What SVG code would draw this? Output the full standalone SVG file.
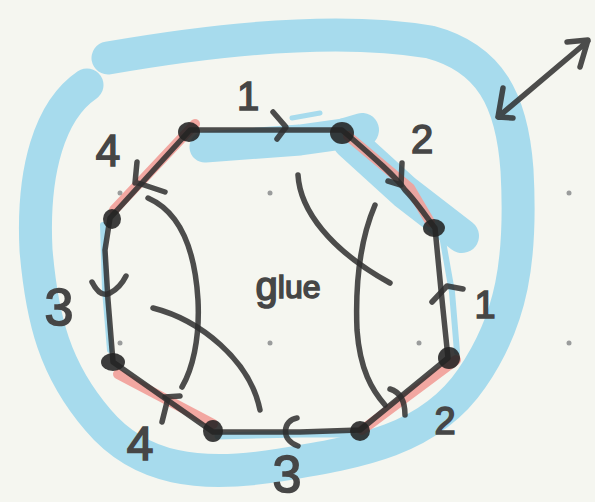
<svg xmlns="http://www.w3.org/2000/svg" width="595" height="502" viewBox="0 0 595 502">
<style>
.bg{fill:#f5f6f0}
.dot{fill:#9a9c9c}
.blue{fill:none;stroke:#a7dbed;stroke-linecap:round;stroke-linejoin:round}
.red{fill:none;stroke:#f29f98;stroke-width:10;stroke-linecap:round;opacity:0.9}
.ink{fill:none;stroke:#2e2e2e;stroke-width:5.5;stroke-linecap:round;stroke-linejoin:round;opacity:0.85}
.node{fill:#222;opacity:0.88}
.lbl{font-family:"Liberation Sans",Arial,sans-serif;fill:#464646;stroke:#464646;stroke-width:1.6;text-anchor:middle}
</style>
<rect class="bg" width="595" height="502"/>
<g id="grid">
<circle class="dot" cx="120" cy="44" r="2.5"/><circle class="dot" cx="270" cy="44" r="2.5"/><circle class="dot" cx="420" cy="44" r="2.5"/>
<circle class="dot" cx="120" cy="193" r="2.5"/><circle class="dot" cx="270" cy="193" r="2.5"/><circle class="dot" cx="569" cy="193" r="2.5"/>
<circle class="dot" cx="120" cy="343" r="2.5"/><circle class="dot" cx="270" cy="343" r="2.5"/><circle class="dot" cx="419" cy="343" r="2.5"/><circle class="dot" cx="569" cy="343" r="2.5"/>
</g>
<g id="outer-loop">
<path class="blue" stroke-width="33" d="M108,58 C200,42 330,25 430,42 C490,58 512,100 517,170 C522,260 512,320 472,378 C430,440 360,452 280,465 C200,478 140,470 98,420 C55,370 42,320 36,250 C32,170 50,110 87,85"/>
</g>
<g id="inner-highlights">
<path class="blue" stroke-width="31" d="M205,147 L300,140 L350,133"/>
<path class="blue" stroke-width="34" d="M345,135 L362,130 M350,142 L405,192 L462,236"/>
<path class="blue" stroke-width="5" d="M292,118 L320,113"/>
<path class="blue" stroke-width="6" d="M441,230 L452,292 L457,352"/>
<path class="blue" stroke-width="6" d="M103,225 L105,290 L110,350"/>
<path class="blue" stroke-width="7" d="M218,436 L300,434 L352,434"/>
</g>
<g id="red-edges">
<path class="red" d="M195,124 L114,210"/>
<path class="red" d="M118,374 L213,424"/>
<path class="red" d="M362,430 L456,360"/>
<path class="red" stroke="#c98a86" d="M348,136 L410,188 L430,222" opacity="0.5"/>
</g>
<g id="octagon">
<path class="ink" d="M190,130 L342,130 C365,150 395,175 405,190 C415,200 425,215 435,228 L441,290 L448,358 L360,430 L300,432 L213,432 L113,362 L108,300 L105,250 L110,218 Z"/>
</g>
<g id="vertices">
<ellipse class="node" id="v1" cx="189" cy="132" rx="11" ry="10"/>
<ellipse class="node" id="v2" cx="342" cy="133" rx="12" ry="11"/>
<ellipse class="node" id="v3" cx="434" cy="228" rx="11" ry="9"/>
<ellipse class="node" id="v4" cx="449" cy="358" rx="11" ry="11"/>
<ellipse class="node" id="v5" cx="360" cy="431" rx="10" ry="10"/>
<ellipse class="node" id="v6" cx="213" cy="431" rx="10" ry="11"/>
<ellipse class="node" id="v7" cx="113" cy="362" rx="12" ry="9"/>
<ellipse class="node" id="v8" cx="112" cy="219" rx="9" ry="10"/>
</g>
<g id="edge-arrows">
<path class="ink" d="M273,112 L286,127 L277,139"/>
<path class="ink" d="M402,163 L401,185 L388,181"/>
<path class="ink" d="M432,302 L447,286 L463,289"/>
<path class="ink" d="M390,389 C400,392 405,400 405,415"/>
<path class="ink" d="M297,418 C283,420 280,440 298,446"/>
<path class="ink" d="M168,398 L162,422 M165,397 L180,396"/>
<path class="ink" d="M92,282 Q100,298 110,293 Q120,288 126,276"/>
<path class="ink" d="M137,162 L135,183 M138,183 L165,192"/>
</g>
<g id="glue-curves">
<path class="ink" d="M148,198 C180,212 195,250 198,300 C200,340 192,370 182,387"/>
<path class="ink" d="M153,308 C200,320 250,360 260,410"/>
<path class="ink" d="M298,175 C300,210 330,250 390,283"/>
<path class="ink" d="M375,205 C360,240 355,280 357,330 C360,370 372,390 385,405"/>
</g>
<g id="double-arrow">
<path class="ink" d="M498,117 L588,41 M503,88 L498,117 L513,118 M567,42 L588,40 L580,67"/>
</g>
<g id="labels">
<text class="lbl" x="248" y="110" font-size="40">1</text>
<text class="lbl" x="422" y="153" font-size="40">2</text>
<text class="lbl" x="485" y="318" font-size="38">1</text>
<text class="lbl" x="445" y="434" font-size="38">2</text>
<text class="lbl" x="287" y="492" font-size="52">3</text>
<text class="lbl" x="140" y="460" font-size="48">4</text>
<text class="lbl" x="59" y="325" font-size="52">3</text>
<text class="lbl" x="108" y="166" font-size="44">4</text>
<text class="lbl" x="288" y="300" font-size="40">g<tspan font-size="32" dy="-2">lue</tspan></text>
</g>
</svg>
